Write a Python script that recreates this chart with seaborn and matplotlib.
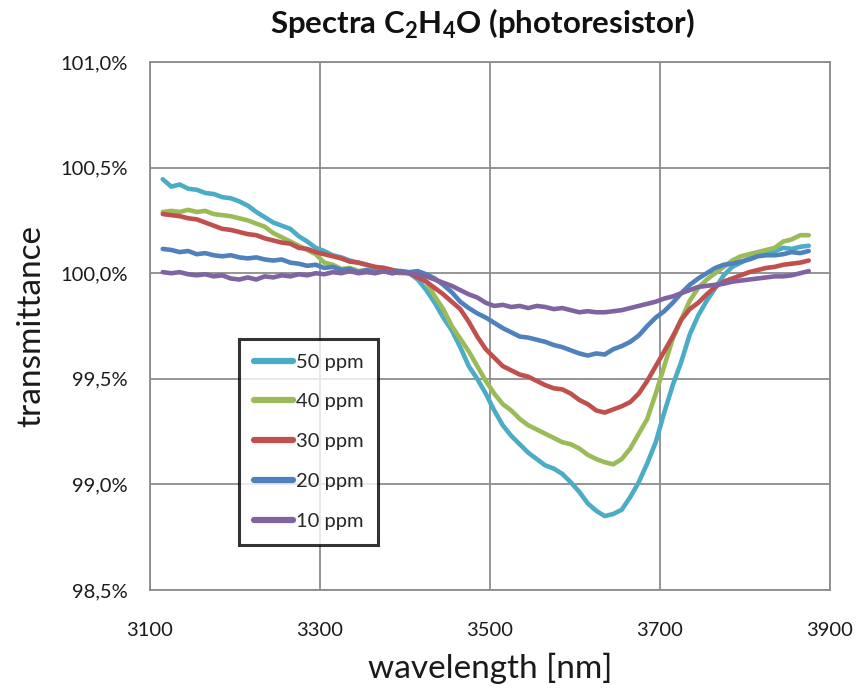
import numpy as np
import pandas as pd
import matplotlib
matplotlib.use("Agg")
import matplotlib.pyplot as plt
from matplotlib.ticker import FuncFormatter
import seaborn as sns

wavelength = list(range(3115, 3876, 10))

ppm50 = [100.445, 100.41, 100.42, 100.40, 100.395, 100.38, 100.375, 100.36, 100.355, 100.34,
         100.32, 100.29, 100.265, 100.24, 100.225, 100.21, 100.175, 100.15, 100.12, 100.105,
         100.085, 100.075, 100.06, 100.05, 100.04, 100.025, 100.025, 100.015, 100.01, 100.0,
         99.97, 99.92, 99.86, 99.79, 99.73, 99.65, 99.56, 99.50, 99.43, 99.35,
         99.28, 99.23, 99.19, 99.15, 99.12, 99.09, 99.075, 99.05, 99.01, 98.965,
         98.91, 98.875, 98.85, 98.86, 98.88, 98.94, 99.01, 99.10, 99.20, 99.34,
         99.47, 99.58, 99.71, 99.80, 99.87, 99.93, 99.99, 100.03, 100.05, 100.07,
         100.09, 100.10, 100.105, 100.12, 100.115, 100.125, 100.13]

ppm40 = [100.29, 100.295, 100.29, 100.30, 100.29, 100.295, 100.28, 100.275, 100.27, 100.26,
         100.25, 100.235, 100.22, 100.19, 100.17, 100.15, 100.13, 100.11, 100.09, 100.05,
         100.04, 100.02, 100.025, 100.01, 100.015, 100.0, 100.01, 100.005, 100.0, 100.0,
         99.99, 99.96, 99.89, 99.83, 99.75, 99.69, 99.63, 99.56, 99.49, 99.43,
         99.38, 99.35, 99.31, 99.28, 99.26, 99.24, 99.22, 99.20, 99.19, 99.17,
         99.14, 99.12, 99.105, 99.095, 99.12, 99.17, 99.24, 99.31, 99.43, 99.56,
         99.69, 99.78, 99.87, 99.93, 99.97, 100.0, 100.03, 100.06, 100.08, 100.09,
         100.10, 100.11, 100.12, 100.15, 100.16, 100.18, 100.18]

ppm30 = [100.28, 100.275, 100.27, 100.26, 100.255, 100.24, 100.225, 100.21, 100.205, 100.195,
         100.185, 100.18, 100.165, 100.155, 100.145, 100.14, 100.12, 100.115, 100.10, 100.09,
         100.08, 100.07, 100.055, 100.05, 100.04, 100.03, 100.025, 100.015, 100.005, 100.0,
         99.98, 99.96, 99.93, 99.90, 99.865, 99.83, 99.77, 99.70, 99.64, 99.60,
         99.56, 99.54, 99.52, 99.51, 99.49, 99.47, 99.455, 99.45, 99.43, 99.40,
         99.38, 99.35, 99.34, 99.355, 99.37, 99.39, 99.43, 99.49, 99.56, 99.63,
         99.70, 99.78, 99.83, 99.86, 99.90, 99.935, 99.96, 99.975, 99.99, 100.005,
         100.015, 100.025, 100.03, 100.04, 100.045, 100.05, 100.06]

ppm20 = [100.115, 100.11, 100.10, 100.105, 100.09, 100.095, 100.085, 100.08, 100.085, 100.075,
         100.07, 100.075, 100.065, 100.06, 100.065, 100.05, 100.045, 100.035, 100.04, 100.025,
         100.03, 100.015, 100.02, 100.005, 100.015, 100.005, 100.01, 100.0, 100.01, 100.005,
         100.01, 99.995, 99.975, 99.945, 99.91, 99.865, 99.835, 99.81, 99.79, 99.765,
         99.74, 99.72, 99.70, 99.695, 99.685, 99.675, 99.66, 99.65, 99.635, 99.62,
         99.61, 99.62, 99.615, 99.64, 99.655, 99.675, 99.705, 99.75, 99.79, 99.82,
         99.86, 99.905, 99.945, 99.975, 100.0, 100.025, 100.04, 100.045, 100.055, 100.065,
         100.08, 100.085, 100.085, 100.09, 100.10, 100.095, 100.105]

ppm10 = [100.005, 100.0, 100.005, 99.995, 99.99, 99.995, 99.985, 99.99, 99.975, 99.97,
         99.98, 99.97, 99.985, 99.98, 99.99, 99.985, 99.995, 99.99, 100.0, 99.995,
         100.005, 100.0, 100.01, 100.0, 100.005, 100.0, 100.01, 100.0, 100.005, 100.0,
         99.995, 99.985, 99.97, 99.955, 99.94, 99.92, 99.90, 99.885, 99.86, 99.845,
         99.85, 99.84, 99.845, 99.835, 99.845, 99.84, 99.83, 99.835, 99.825, 99.815,
         99.82, 99.815, 99.815, 99.82, 99.825, 99.835, 99.845, 99.855, 99.865, 99.88,
         99.89, 99.905, 99.92, 99.935, 99.94, 99.945, 99.95, 99.96, 99.965, 99.97,
         99.975, 99.98, 99.985, 99.985, 99.99, 100.0, 100.01]

series_names = ["50 ppm", "40 ppm", "30 ppm", "20 ppm", "10 ppm"]
series_values = [ppm50, ppm40, ppm30, ppm20, ppm10]
colors = ["#4BACC6", "#9BBB59", "#C0504D", "#4F81BD", "#8064A2"]

x_ticks = [3100, 3300, 3500, 3700, 3900]
y_ticks = [98.5, 99.0, 99.5, 100.0, 100.5, 101.0]

rows = []
for name, vals in zip(series_names, series_values):
    for w, v in zip(wavelength, vals):
        rows.append({"wavelength": w, "transmittance": v, "series": name})
df = pd.DataFrame(rows)

sns.set_style("white")
plt.rcParams["font.family"] = ["Lato", "DejaVu Sans"]

fig = plt.figure(figsize=(8.56, 6.88), dpi=100)
ax = fig.add_axes([150/856, 1 - 590/688, 680/856, 528/688])

sns.lineplot(data=df, x="wavelength", y="transmittance", hue="series",
             hue_order=series_names, palette=colors, linewidth=3.3, ax=ax,
             legend=True)

ax.set_xlim(3100, 3900)
ax.set_ylim(98.5, 101.0)
ax.set_xticks(x_ticks)
ax.set_yticks(y_ticks)
ax.yaxis.set_major_formatter(FuncFormatter(lambda v, p: f"{v:.1f}%".replace(".", ",")))
ax.grid(True, color="#8c8c8c", linewidth=1.3)
ax.set_axisbelow(True)
for s in ax.spines.values():
    s.set_color("#8c8c8c")
    s.set_linewidth(1.3)
ax.tick_params(axis="both", direction="inout", length=8, width=1.3, color="#8c8c8c",
               labelsize=14.5, labelcolor="#1a1a1a")
ax.tick_params(axis="y", pad=12)
ax.tick_params(axis="x", pad=19)

ax.set_xlabel("wavelength [nm]", fontsize=24, color="#1a1a1a", labelpad=10)
ax.set_ylabel("transmittance", fontsize=24, color="#1a1a1a", labelpad=10)

fig.text(482/856, 1 - 24/688,
         r"Spectra C$_\mathregular{2}$H$_\mathregular{4}$O (photoresistor)",
         ha="center", va="center", fontsize=22.5, fontweight="bold", color="#111111")

leg = ax.legend(loc="upper left", bbox_to_anchor=(89/680, (590-339)/528),
                frameon=True, fancybox=False, fontsize=14.5, handlelength=1.95,
                labelspacing=1.13, borderpad=0.72, handletextpad=0.15,
                borderaxespad=0)
leg.get_frame().set_edgecolor("black")
leg.get_frame().set_linewidth(2.2)
for line in leg.get_lines():
    line.set_linewidth(4.5)

fig.savefig("out.png", dpi=100)
